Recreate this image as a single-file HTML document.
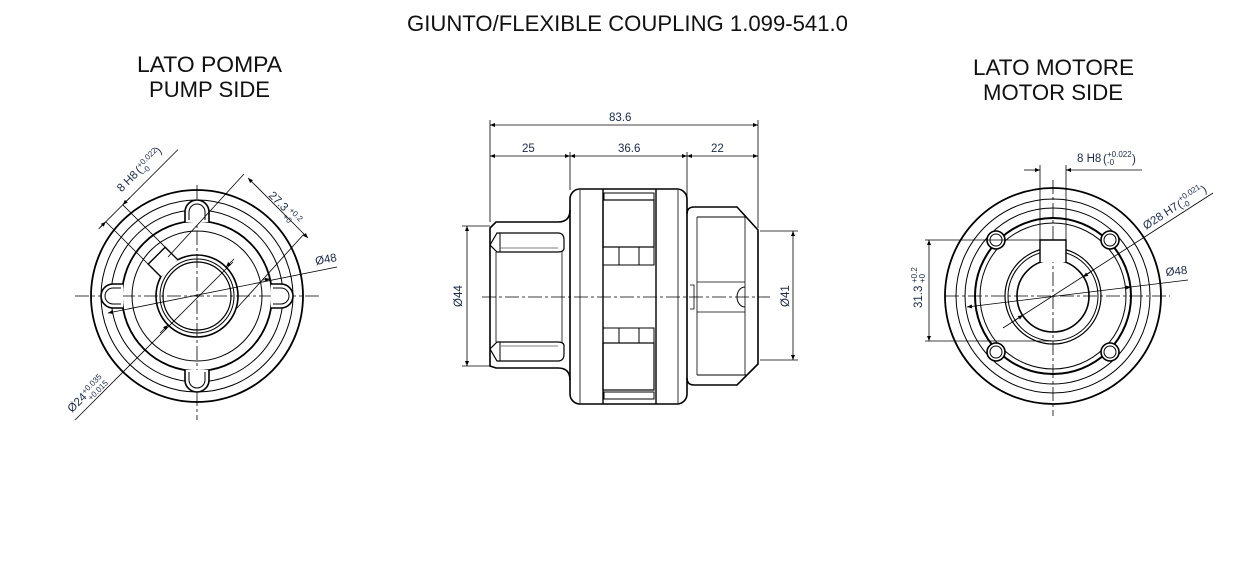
<!DOCTYPE html>
<html><head><meta charset="utf-8"><style>
html,body{margin:0;padding:0;background:#fff;}
svg{display:block}
text{font-family:"Liberation Sans",Arial,sans-serif;}
.t{fill:#111;font-size:22px}
.d{fill:#1a2a4a;font-size:11.5px}
.s{fill:#1a2a4a;font-size:8px}
</style></head><body>
<svg width="1240" height="571" viewBox="0 0 1240 571" xmlns="http://www.w3.org/2000/svg">
<defs>
<marker id="a" viewBox="0 0 10 10" refX="10" refY="5" markerWidth="8" markerHeight="5" orient="auto-start-reverse" markerUnits="userSpaceOnUse"><path d="M0,1 L10,5 L0,9 z" fill="#000"/></marker>
</defs>
<rect width="1240" height="571" fill="#fff"/>
<text class="t" x="407" y="31" textLength="441" lengthAdjust="spacingAndGlyphs">GIUNTO/FLEXIBLE COUPLING 1.099-541.0</text>
<text class="t" x="137" y="72" textLength="145" lengthAdjust="spacingAndGlyphs">LATO POMPA</text>
<text class="t" x="149" y="97" textLength="121" lengthAdjust="spacingAndGlyphs">PUMP SIDE</text>
<text class="t" x="973" y="75" textLength="161" lengthAdjust="spacingAndGlyphs">LATO MOTORE</text>
<text class="t" x="983" y="100" textLength="140" lengthAdjust="spacingAndGlyphs">MOTOR SIDE</text>

<!-- LEFT VIEW -->
<g fill="none" stroke="#000">
<line x1="75" y1="296" x2="320" y2="296" stroke-width="0.8" stroke-dasharray="14,3,3,3"/>
<line x1="197" y1="185" x2="197" y2="420" stroke-width="0.8" stroke-dasharray="14,3,3,3"/>
<circle cx="197" cy="296" r="106" stroke-width="1.8"/>
<circle cx="197" cy="296" r="96" stroke-width="1"/>
<circle cx="197" cy="296" r="86" stroke-width="1"/>
<circle cx="197" cy="296" r="75" stroke-width="1.8"/>
<circle cx="197" cy="296" r="65" stroke-width="1"/>
<circle cx="197" cy="296" r="41" stroke-width="1.6"/>
<circle cx="197" cy="296" r="37" stroke-width="1"/>
<circle cx="197" cy="296" r="34" stroke-width="1.2"/>
<g stroke-width="1.6" fill="#fff">
<path d="M185,222 L185,212 A12,12 0 0 1 209,212 L209,222"/>
<path d="M185,370 L185,380 A12,12 0 0 0 209,380 L209,370"/>
<path d="M123,284 L113,284 A12,12 0 0 0 113,308 L123,308"/>
<path d="M271,284 L281,284 A12,12 0 0 1 281,308 L271,308"/>
</g>
<g stroke-width="1">
<path d="M189,220 L189,212 A8,8 0 0 1 205,212 L205,220"/>
<path d="M189,372 L189,380 A8,8 0 0 0 205,380 L205,372"/>
<path d="M121,288 L113,288 A8,8 0 0 0 113,304 L121,304"/>
<path d="M273,288 L281,288 A8,8 0 0 1 281,304 L273,304"/>
</g>
<g transform="rotate(45 197 296)">
<path d="M158,284 L140,284 L140,308 L158,308" fill="#fff" stroke-width="1.4"/>
<line x1="80" y1="284" x2="140" y2="284" stroke-width="0.8"/>
<line x1="80" y1="308" x2="140" y2="308" stroke-width="0.8"/>
<line x1="80" y1="206" x2="80" y2="316" stroke-width="0.8"/>
<line x1="80" y1="318" x2="80" y2="308" stroke-width="0.8" marker-end="url(#a)"/>
<line x1="80" y1="274" x2="80" y2="284" stroke-width="0.8" marker-end="url(#a)"/>
</g>
<line x1="248" y1="178" x2="308" y2="238" stroke-width="0.8" marker-start="url(#a)" marker-end="url(#a)"/>
<line x1="244" y1="174" x2="168" y2="257" stroke-width="0.8"/>
<line x1="304" y1="234" x2="237" y2="308" stroke-width="0.8"/>
<line x1="108" y1="313" x2="337" y2="267" stroke-width="0.8" marker-start="url(#a)"/>
<line x1="263" y1="280" x2="270" y2="279" stroke-width="0.8" marker-end="url(#a)"/>
<line x1="75" y1="420" x2="233" y2="262" stroke-width="0.8"/>
<line x1="160" y1="333" x2="168" y2="325" stroke-width="0.8" marker-end="url(#a)"/>
<line x1="234" y1="259" x2="226" y2="267" stroke-width="0.8" marker-end="url(#a)"/>
</g>
<g transform="translate(130,184) rotate(-45)"><text class="d" x="-12" y="0">8 H8</text><text class="d" x="14" y="0" font-size="13">(</text><text class="s" x="18" y="-4">+0.022</text><text class="s" x="18" y="4">-0</text><text class="d" x="42" y="0" font-size="13">)</text></g>
<g transform="translate(268,196) rotate(45)"><text class="d" x="0" y="0">27.3</text><text class="s" x="25" y="-4">+0.2</text><text class="s" x="25" y="5">+0</text></g>
<text class="d" x="316" y="265" transform="rotate(-11 316 265)">Ø48</text>
<g transform="translate(72,413) rotate(-45)"><text class="d" x="0" y="0">Ø24</text><text class="s" x="22" y="-4">+0.035</text><text class="s" x="22" y="5">+0.015</text></g>

<!-- MIDDLE VIEW -->
<g fill="none" stroke="#000">
<line x1="490" y1="125" x2="758" y2="125" stroke-width="0.8" marker-start="url(#a)" marker-end="url(#a)"/>
<line x1="490" y1="156" x2="570" y2="156" stroke-width="0.8" marker-start="url(#a)" marker-end="url(#a)"/>
<line x1="570" y1="156" x2="687" y2="156" stroke-width="0.8" marker-start="url(#a)" marker-end="url(#a)"/>
<line x1="687" y1="156" x2="758" y2="156" stroke-width="0.8" marker-start="url(#a)" marker-end="url(#a)"/>
<line x1="490" y1="120" x2="490" y2="222" stroke-width="0.8"/>
<line x1="758" y1="120" x2="758" y2="228" stroke-width="0.8"/>
<line x1="570" y1="152" x2="570" y2="190" stroke-width="0.8"/>
<line x1="687" y1="152" x2="687" y2="207" stroke-width="0.8"/>
<line x1="482" y1="297" x2="770" y2="297" stroke-width="0.8" stroke-dasharray="14,3,3,3"/>
<path d="M570,210 Q570,222 558,222 L496,222 L490,228 L490,366 L496,368 L558,368 Q570,368 570,380" stroke-width="1.6"/>
<path d="M490,245 L497,233 L558,233 Q564,233 564,240 L564,248 Q564,252 558,252 L497,252 Z" stroke-width="1.2"/>
<path d="M490,349 L497,361 L558,361 Q564,361 564,354 L564,346 Q564,342 558,342 L497,342 Z" stroke-width="1.2"/>
<line x1="500" y1="233" x2="500" y2="252" stroke-width="1"/><line x1="500" y1="342" x2="500" y2="361" stroke-width="1"/>
<line x1="501" y1="248" x2="558" y2="248" stroke-width="0.6"/><line x1="501" y1="346" x2="558" y2="346" stroke-width="0.6"/>
<line x1="496" y1="252" x2="496" y2="342" stroke-width="0.8"/>
<line x1="562" y1="252" x2="562" y2="342" stroke-width="0.8"/>
<rect x="570" y="189" width="117" height="215" rx="10" stroke-width="1.6"/>
<line x1="580" y1="190" x2="580" y2="403" stroke-width="0.8"/>
<line x1="603" y1="189" x2="603" y2="404" stroke-width="1.4"/>
<line x1="656" y1="189" x2="656" y2="404" stroke-width="1.4"/>
<line x1="678" y1="190" x2="678" y2="403" stroke-width="0.8"/>
<rect x="604" y="193" width="50" height="7" stroke-width="1"/>
<rect x="603" y="200" width="51" height="47" stroke-width="1.2"/>
<rect x="603" y="247" width="51" height="18" stroke-width="1"/>
<line x1="619" y1="247" x2="619" y2="265" stroke-width="1"/><line x1="639" y1="247" x2="639" y2="265" stroke-width="1"/>
<rect x="603" y="328" width="51" height="15" stroke-width="1"/>
<line x1="619" y1="328" x2="619" y2="343" stroke-width="1"/><line x1="639" y1="328" x2="639" y2="343" stroke-width="1"/>
<rect x="603" y="343" width="51" height="47" stroke-width="1.2"/>
<rect x="604" y="392" width="50" height="7" stroke-width="1"/>
<path d="M687,214 Q687,207 694,207 L737,207 L758,230 L758,364 L737,385 L694,385 Q687,385 687,378" stroke-width="1.6"/>
<line x1="697" y1="217" x2="697" y2="375" stroke-width="0.8"/>
<line x1="745" y1="217" x2="745" y2="375" stroke-width="0.8"/>
<line x1="697" y1="217" x2="746" y2="217" stroke-width="1"/>
<line x1="697" y1="375" x2="746" y2="375" stroke-width="1"/>
<line x1="697" y1="282" x2="745" y2="282" stroke-width="0.8"/>
<line x1="697" y1="312" x2="745" y2="312" stroke-width="0.8"/>
<path d="M745,287 A8,10 0 0 0 745,307" stroke-width="1"/>
<path d="M690,285 L694,285 L694,309 L690,309" stroke-width="0.8"/>
<line x1="462" y1="226" x2="490" y2="226" stroke-width="0.8"/>
<line x1="462" y1="366" x2="490" y2="366" stroke-width="0.8"/>
<line x1="467" y1="226" x2="467" y2="366" stroke-width="0.8" marker-start="url(#a)" marker-end="url(#a)"/>
<line x1="760" y1="231" x2="798" y2="231" stroke-width="0.8"/>
<line x1="760" y1="360" x2="798" y2="360" stroke-width="0.8"/>
<line x1="793" y1="231" x2="793" y2="360" stroke-width="0.8" marker-start="url(#a)" marker-end="url(#a)"/>
</g>
<text class="d" x="609" y="121">83.6</text>
<text class="d" x="522" y="152">25</text>
<text class="d" x="618" y="152">36.6</text>
<text class="d" x="711" y="152">22</text>
<text class="d" transform="translate(462,307) rotate(-90)">Ø44</text>
<text class="d" transform="translate(789,307) rotate(-90)">Ø41</text>

<!-- RIGHT VIEW -->
<g fill="none" stroke="#000">
<line x1="945" y1="296" x2="1170" y2="296" stroke-width="0.8" stroke-dasharray="14,3,3,3"/>
<line x1="1053" y1="180" x2="1053" y2="416" stroke-width="0.8" stroke-dasharray="14,3,3,3"/>
<circle cx="1053" cy="296" r="108" stroke-width="1.8"/>
<circle cx="1053" cy="296" r="97" stroke-width="1"/>
<circle cx="1053" cy="296" r="88" stroke-width="1"/>
<circle cx="1053" cy="296" r="78" stroke-width="2"/>
<circle cx="1053" cy="296" r="73" stroke-width="1"/>
<circle cx="1053" cy="296" r="48" stroke-width="1.2"/>
<circle cx="1053" cy="296" r="45" stroke-width="1"/>
<circle cx="1053" cy="296" r="36" stroke-width="1.6"/>
<g stroke-width="1.6" fill="#fff">
<circle cx="996" cy="240" r="9"/><circle cx="1110" cy="240" r="9"/>
<circle cx="996" cy="352" r="9"/><circle cx="1110" cy="352" r="9"/>
</g>
<g stroke-width="1">
<circle cx="996" cy="240" r="6"/><circle cx="1110" cy="240" r="6"/>
<circle cx="996" cy="352" r="6"/><circle cx="1110" cy="352" r="6"/>
</g>
<path d="M1040,262 L1040,240 L1066,240 L1066,262" fill="#fff" stroke-width="1.4"/>
<line x1="1040" y1="165" x2="1040" y2="240" stroke-width="0.8"/>
<line x1="1066" y1="165" x2="1066" y2="240" stroke-width="0.8"/>
<line x1="1024" y1="170" x2="1040" y2="170" stroke-width="0.8" marker-end="url(#a)"/>
<line x1="1142" y1="170" x2="1066" y2="170" stroke-width="0.8" marker-end="url(#a)"/>
<line x1="925" y1="240" x2="1040" y2="240" stroke-width="0.8"/>
<line x1="925" y1="341" x2="1053" y2="341" stroke-width="0.8"/>
<line x1="929" y1="240" x2="929" y2="341" stroke-width="0.8" marker-start="url(#a)" marker-end="url(#a)"/>
<line x1="1003" y1="328" x2="1213" y2="193" stroke-width="0.8"/>
<line x1="1014" y1="321" x2="1023" y2="315" stroke-width="0.8" marker-end="url(#a)"/>
<line x1="1092" y1="271" x2="1083" y2="277" stroke-width="0.8" marker-end="url(#a)"/>
<line x1="967" y1="307" x2="1188" y2="280" stroke-width="0.8" marker-start="url(#a)"/>
<line x1="1122" y1="288" x2="1131" y2="287" stroke-width="0.8" marker-end="url(#a)"/>
</g>
<g transform="translate(1077,162)"><text class="d" x="0" y="0">8 H8</text><text class="d" x="26" y="1" font-size="14">(</text><text class="s" x="30" y="-5">+0.022</text><text class="s" x="30" y="3">-0</text><text class="d" x="55" y="1" font-size="14">)</text></g>
<g transform="translate(1146,230) rotate(-33)"><text class="d" x="0" y="0">Ø28 H7</text><text class="d" x="40" y="1" font-size="14">(</text><text class="s" x="44" y="-5">+0.021</text><text class="s" x="44" y="3">-0</text><text class="d" x="69" y="1" font-size="14">)</text></g>
<text class="d" x="1166" y="276" transform="rotate(-6 1166 276)">Ø48</text>
<g transform="translate(922,308) rotate(-90)"><text class="d" x="0" y="0">31.3</text><text class="s" x="25" y="-5">+0.2</text><text class="s" x="25" y="3">+0</text></g>
</svg>
</body></html>
